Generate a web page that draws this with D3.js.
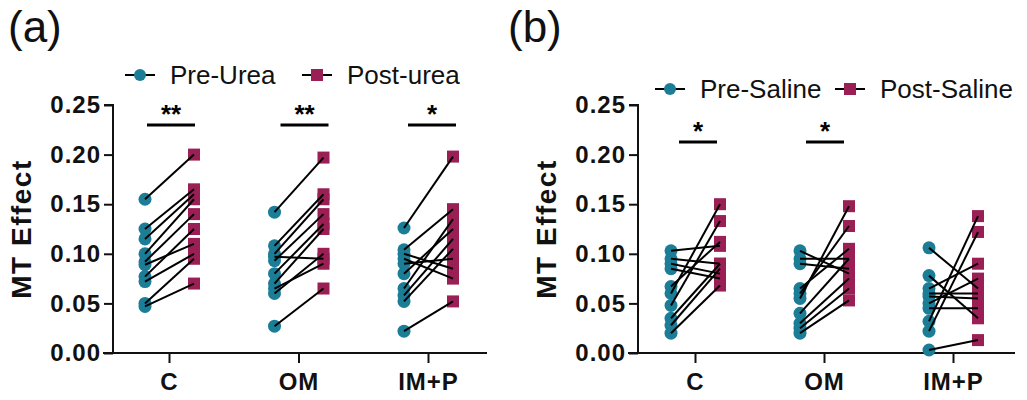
<!DOCTYPE html>
<html>
<head>
<meta charset="utf-8">
<script src="https://cdn.jsdelivr.net/npm/d3@7/dist/d3.min.js"></script>
<style>
  html, body { margin: 0; padding: 0; background: #fff; }
  svg { display: block; font-family: "Liberation Sans", Arial, sans-serif; }
</style>
</head>
<body>
<svg id="chart" width="1027" height="400"></svg>
<script>
// Groups shown on the x axis of both panels
const categories = ["C", "OM", "IM+P"];
const yTicks = [0, 0.05, 0.10, 0.15, 0.20, 0.25];

// Panel (a): urea, paired values per subject (same index = same subject)
const ureaPre = {
  "C":    [0.155, 0.125, 0.115, 0.100, 0.092, 0.089, 0.077, 0.072, 0.050, 0.047],
  "OM":   [0.142, 0.108, 0.100, 0.097, 0.093, 0.080, 0.070, 0.065, 0.060, 0.027],
  "IM+P": [0.126, 0.104, 0.100, 0.095, 0.090, 0.080, 0.065, 0.058, 0.052, 0.022]
};
const ureaPost = {
  "C":    [0.200, 0.165, 0.160, 0.155, 0.140, 0.110, 0.125, 0.100, 0.095, 0.070],
  "OM":   [0.197, 0.160, 0.155, 0.095, 0.140, 0.130, 0.125, 0.090, 0.100, 0.065],
  "IM+P": [0.198, 0.145, 0.085, 0.075, 0.095, 0.125, 0.135, 0.115, 0.105, 0.052]
};
const ureaStars = {"C": "**", "OM": "**", "IM+P": "*"};

// Panel (b): saline
const salinePre = {
  "C":    [0.103, 0.095, 0.090, 0.085, 0.067, 0.060, 0.048, 0.035, 0.028, 0.020],
  "OM":   [0.103, 0.095, 0.090, 0.065, 0.060, 0.055, 0.040, 0.030, 0.025, 0.020],
  "IM+P": [0.106, 0.078, 0.065, 0.060, 0.057, 0.050, 0.045, 0.032, 0.022, 0.003]
};
const salinePost = {
  "C":    [0.108, 0.090, 0.080, 0.075, 0.112, 0.150, 0.133, 0.090, 0.085, 0.068],
  "OM":   [0.080, 0.095, 0.085, 0.105, 0.128, 0.148, 0.095, 0.075, 0.065, 0.053],
  "IM+P": [0.065, 0.035, 0.090, 0.060, 0.055, 0.075, 0.045, 0.138, 0.122, 0.013]
};
const salineStars = {"C": "*", "OM": "*"};

const preColor = "#1c7d97";
const postColor = "#9a1f54";
const ink = "#111";

const svg = d3.select("#chart");

function drawPanel(cfg) {
  const g = svg.append("g");
  const y = d3.scaleLinear().domain([0, 0.25]).range([353, 105]);
  const x = d3.scalePoint().domain(categories).range([cfg.c0, cfg.c1]);

  // panel letter
  g.append("text").attr("x", cfg.letterX).attr("y", 42)
    .attr("font-size", 44).attr("fill", ink).text(cfg.letter);

  // y axis
  const yAxis = d3.axisLeft(y).tickValues(yTicks).tickFormat(d3.format(".2f"))
    .tickSize(9).tickPadding(3);
  const ya = g.append("g").attr("transform", `translate(${cfg.axisX},0)`).call(yAxis);
  ya.select(".domain").attr("stroke", ink).attr("stroke-width", 2).attr("d", `M-9,105H0V353`);
  ya.selectAll(".tick line").attr("stroke", ink).attr("stroke-width", 2);
  ya.selectAll(".tick text").attr("font-size", 24).attr("font-weight", "bold")
    .attr("fill", ink).attr("letter-spacing", 1).attr("font-family", "Liberation Sans, Arial, sans-serif");

  // x axis
  const xAxis = d3.axisBottom(x).tickSize(10).tickPadding(10);
  const xa = g.append("g").attr("transform", "translate(0,353)").call(xAxis);
  xa.select(".domain").attr("stroke", ink).attr("stroke-width", 2)
    .attr("d", `M${cfg.axisX - 10},0H${cfg.xEnd}`);
  xa.selectAll(".tick line").attr("stroke", ink).attr("stroke-width", 2);
  xa.selectAll(".tick text").attr("font-size", 24).attr("font-weight", "bold")
    .attr("fill", ink).attr("letter-spacing", 1).attr("font-family", "Liberation Sans, Arial, sans-serif");

  // y title
  g.append("text")
    .attr("transform", `translate(${cfg.axisX - 82},229) rotate(-90)`)
    .attr("text-anchor", "middle").attr("font-size", 28).attr("font-weight", "bold")
    .attr("letter-spacing", 1.5).attr("fill", ink).text("MT Effect");

  const dPre = -24, dPost = 25;

  categories.forEach(cat => {
    const pre = cfg.pre[cat], post = cfg.post[cat];
    const cx = x(cat);
    const pairs = pre.map((v, i) => ({pre: v, post: post[i]}));

    g.append("g").selectAll("circle").data(pre).join("circle")
      .attr("cx", cx + dPre).attr("cy", d => y(d)).attr("r", 6.5).attr("fill", preColor);
    g.append("g").selectAll("rect").data(post).join("rect")
      .attr("x", cx + dPost - 6).attr("y", d => y(d) - 6)
      .attr("width", 12).attr("height", 12).attr("fill", postColor);
    g.append("g").selectAll("line").data(pairs).join("line")
      .attr("x1", cx + dPre).attr("y1", d => y(d.pre))
      .attr("x2", cx + dPost).attr("y2", d => y(d.post))
      .attr("stroke", "#000").attr("stroke-width", 2);

    // significance marker
    const star = cfg.stars[cat];
    if (star) {
      const half = cfg.barHalf;
      const bc = cx + cfg.barShift[cat];
      g.append("line").attr("x1", bc - half).attr("x2", bc + half)
        .attr("y1", cfg.barY).attr("y2", cfg.barY)
        .attr("stroke", "#000").attr("stroke-width", 3);
      g.append("text").attr("x", bc).attr("y", cfg.barY - 2)
        .attr("text-anchor", "middle").attr("font-size", 26).attr("font-weight", "bold")
        .attr("fill", "#000").text(star);
    }
  });

  // legend
  const ly = cfg.legendY;
  const items = [
    {label: cfg.preLabel, x: cfg.legX[0], kind: "pre"},
    {label: cfg.postLabel, x: cfg.legX[1], kind: "post"}
  ];
  items.forEach(it => {
    g.append("line").attr("x1", it.x - 15).attr("x2", it.x + 15)
      .attr("y1", ly).attr("y2", ly).attr("stroke", "#000").attr("stroke-width", 2);
    if (it.kind === "pre") {
      g.append("circle").attr("cx", it.x).attr("cy", ly).attr("r", 6).attr("fill", preColor);
    } else {
      g.append("rect").attr("x", it.x - 6).attr("y", ly - 6).attr("width", 12)
        .attr("height", 12).attr("fill", postColor);
    }
    g.append("text").attr("x", it.x + 30).attr("y", ly + 9)
      .attr("font-size", 26).attr("fill", ink).text(it.label);
  });
}

drawPanel({
  letter: "(a)", letterX: 8, axisX: 113, xEnd: 487, c0: 169, c1: 428,
  pre: ureaPre, post: ureaPost, stars: ureaStars,
  barY: 125, barHalf: 24, barShift: {"C": 2, "OM": 6, "IM+P": 4},
  legendY: 75, legX: [140, 317], preLabel: "Pre-Urea", postLabel: "Post-urea"
});

drawPanel({
  letter: "(b)", letterX: 508, axisX: 638, xEnd: 1015, c0: 695, c1: 953,
  pre: salinePre, post: salinePost, stars: salineStars,
  barY: 142, barHalf: 19, barShift: {"C": 3, "OM": 1},
  legendY: 89, legX: [670, 850], preLabel: "Pre-Saline", postLabel: "Post-Saline"
});
</script>
</body>
</html>
